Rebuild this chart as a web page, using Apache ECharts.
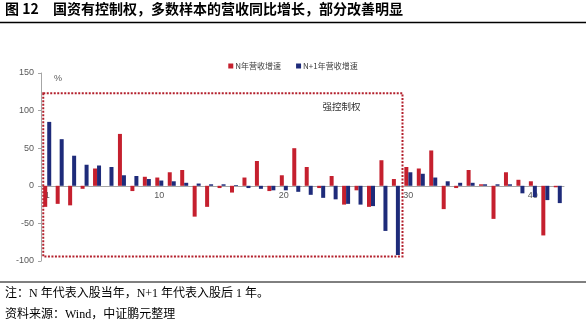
<!DOCTYPE html>
<html><head><meta charset="utf-8">
<script src="https://cdn.jsdelivr.net/npm/echarts@6/dist/echarts.min.js"></script>
<style>html,body{margin:0;padding:0;background:#fff}#c{width:586px;height:324px}</style>
</head><body><div id="c"></div>
<script>
const categories = ['1','2','3','4','5','6','7','8','9','10','11','12','13','14','15','16','17','18','19','20','21','22','23','24','25','26','27','28','29','30','31','32','33','34','35','36','37','38','39','40','41','42'];
const shownLabels = ['1','10','20','30','40'];
const nYear = [-28,-24,-26,-4,23,0,69,-7,12,11,18,21,-41,-28,-3,-9,11,33,-7,14,50,25,-3,13,-25,-6,-28,34,9,25,23,47,-31,-3,21,2,-44,18,8,6,-66,-2];
const n1Year = [85,62,40,28,27,25,14,13,9,7,6,4,3,2,2,1,-3,-4,-6,-6,-8,-12,-16,-18,-24,-25,-27,-60,-92,18,16,11,6,4,4,2,2,2,-10,-15,-19,-23];
const seriesNames = ['N年营收增速','N+1年营收增速'];
const yMin = -100, yMax = 150, yStep = 50;
const boxRange = {x0:0.68, x1:29.53, yTop:123, yBottom:-94};
const boxLabel = '强控制权';
const titleNo = '图 12';
const titleText = '国资有控制权，多数样本的营收同比增长，部分改善明显';
const note1 = '注：N 年代表入股当年，N+1 年代表入股后 1 年。';
const note2 = '资料来源：Wind，中证鹏元整理';

const gridTop = 73, gridBottom = 63, H = 324;
const plotH = H - gridTop - gridBottom;
// move the category axis (line + labels) up to the zero line
const zeroOffset = -plotH * (0 - yMin) / (yMax - yMin);

const chart = echarts.init(document.getElementById('c'), null, {renderer:'canvas'});
const tickFont = {fontFamily:'Liberation Sans, Arial, sans-serif', fontSize:9, color:'#595959'};
const titleFont = {fontFamily:'Noto Sans CJK SC, sans-serif', fontWeight:'bold', fontSize:14, fill:'#000'};
chart.setOption({
  animation:false,
  backgroundColor:'#fff',
  grid:{left:41, right:22, top:gridTop, bottom:gridBottom, containLabel:false},
  legend:{
    data:seriesNames, left:'center', top:57, itemWidth:5, itemHeight:5, itemGap:15, icon:'rect',
    textStyle:{fontFamily:'Noto Sans CJK SC, sans-serif', fontSize:8, color:'#404040', padding:[0,0,0,-3]}
  },
  xAxis:[{
    type:'category', data:categories, position:'bottom', offset:zeroOffset,
    axisLine:{onZero:false, lineStyle:{color:'#a6a6a6', width:1}},
    axisTick:{show:false},
    axisLabel:Object.assign({interval:0, margin:5, formatter:v => shownLabels.includes(v) ? v : ''}, tickFont),
    splitLine:{show:false}
  },{
    type:'value', min:0.5, max:42.5, show:false
  }],
  yAxis:{
    type:'value', min:yMin, max:yMax, interval:yStep,
    name:'%', nameLocation:'end', nameGap:-10,
    nameTextStyle:Object.assign({}, tickFont, {align:'left', padding:[0,0,0,13]}),
    axisLine:{show:true, lineStyle:{color:'#a6a6a6'}},
    axisTick:{show:true, length:3, lineStyle:{color:'#a6a6a6'}},
    axisLabel:Object.assign({margin:7}, tickFont),
    splitLine:{show:false}
  },
  series:[
    {name:seriesNames[0], type:'bar', data:nYear, barWidth:4, barGap:'0%', itemStyle:{color:'#C5202E'}},
    {name:seriesNames[1], type:'bar', data:n1Year, barWidth:4, barGap:'0%', itemStyle:{color:'#1E2B7A'}},
    {type:'line', xAxisIndex:1, data:[], silent:true,
     markArea:{silent:true,
       itemStyle:{color:'rgba(0,0,0,0)', borderColor:'#B3202C', borderWidth:2, borderType:[2,1.5]},
       label:{show:true, position:'insideTopRight', offset:[-38,4], color:'#333', fontSize:9.5, fontFamily:'Noto Sans CJK SC, sans-serif'},
       data:[[{name:boxLabel, coord:[boxRange.x0, boxRange.yTop]},{coord:[boxRange.x1, boxRange.yBottom]}]]
     }}
  ],
  graphic:[
    {type:'text', left:5, top:2, style:Object.assign({text:titleNo}, titleFont)},
    {type:'text', left:53, top:2, style:Object.assign({text:titleText}, titleFont)},
    {type:'line', shape:{x1:0,y1:22.5,x2:586,y2:22.5}, style:{stroke:'#000', lineWidth:1.5}},
    {type:'line', shape:{x1:0,y1:282,x2:586,y2:282}, style:{stroke:'#000', lineWidth:1}},
    {type:'text', left:5, top:288, style:{text:note1, fontFamily:'Liberation Serif, Noto Sans CJK SC, serif', fontSize:12, fill:'#000'}},
    {type:'text', left:5, top:309, style:{text:note2, fontFamily:'Liberation Serif, Noto Sans CJK SC, serif', fontSize:12, fill:'#000'}}
  ]
});
</script></body></html>
